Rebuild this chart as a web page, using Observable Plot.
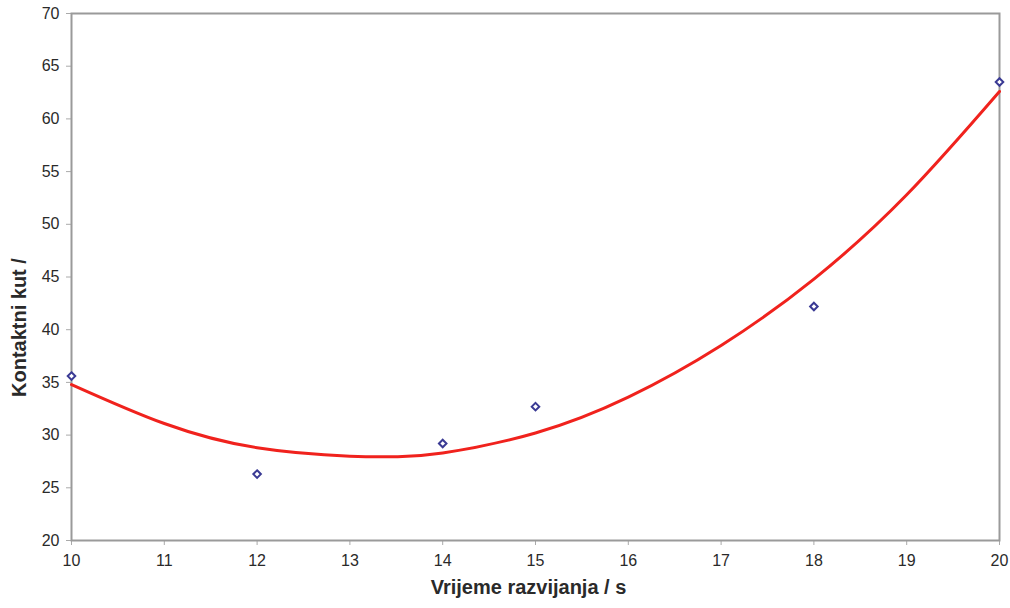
<!DOCTYPE html>
<html>
<head>
<meta charset="utf-8">
<script src="https://cdn.jsdelivr.net/npm/d3@7"></script>
<script src="https://cdn.jsdelivr.net/npm/@observablehq/plot@0.6"></script>
<style>
  html, body { margin: 0; padding: 0; background: #fff; }
  #chart svg { display: block; }
</style>
</head>
<body>
<div id="chart"></div>
<script>
// Measured contact angle versus development time
const time = [10, 12, 14, 15, 18, 20];
const angle = [35.6, 26.3, 29.2, 32.7, 42.2, 63.5];

// Polynomial trend line, sampled along the time axis
const trendTime = [10, 11, 12, 13, 13.5, 14, 15, 16, 17, 18, 19, 20];
const trendAngle = [34.8, 31.1, 28.8, 28.0, 27.95, 28.3, 30.2, 33.6, 38.5, 44.8, 52.8, 62.6];

const xTicks = [10, 11, 12, 13, 14, 15, 16, 17, 18, 19, 20];
const yTicks = [20, 25, 30, 35, 40, 45, 50, 55, 60, 65, 70];

const points = time.map((t, i) => ({t, a: angle[i]}));
const trend = trendTime.map((t, i) => ({t, a: trendAngle[i]}));

const chart = Plot.plot({
  width: 1010,
  height: 608,
  marginLeft: 71,
  marginRight: 11,
  marginTop: 13,
  marginBottom: 68,
  style: {fontFamily: "'Liberation Sans', Arial, sans-serif", fontSize: "16px", color: "#222"},
  x: {domain: [10, 20]},
  y: {domain: [20, 70]},
  marks: [
    Plot.axisX({ticks: xTicks, tickSize: 5, tickPadding: 9, stroke: "#aaa", fill: "#2a2a2a", label: null, fontSize: 16}),
    Plot.axisY({ticks: yTicks, tickSize: 5, tickPadding: 7, stroke: "#aaa", fill: "#2a2a2a", label: null, fontSize: 16}),
    Plot.frame({stroke: "#9a9a9a", strokeWidth: 2}),
    Plot.line(trend, {x: "t", y: "a", curve: "natural", stroke: "#f0221d", strokeWidth: 3}),
    Plot.dot(points, {x: "t", y: "a", symbol: "diamond2", r: 3.4, stroke: "#3a3a94", strokeWidth: 2, fill: "white"}),
    Plot.text(["Vrijeme razvijanja / s"], {frameAnchor: "bottom", dx: -7, dy: 53, fontSize: 20, fontWeight: "bold", fill: "#2a2a2a"}),
    Plot.text(["Kontaktni kut /"], {frameAnchor: "left", dx: -52, dy: 120, textAnchor: "start", rotate: -90, fontSize: 20, fontWeight: "bold", fill: "#2a2a2a"})
  ]
});

document.getElementById("chart").appendChild(chart);
</script>
</body>
</html>
